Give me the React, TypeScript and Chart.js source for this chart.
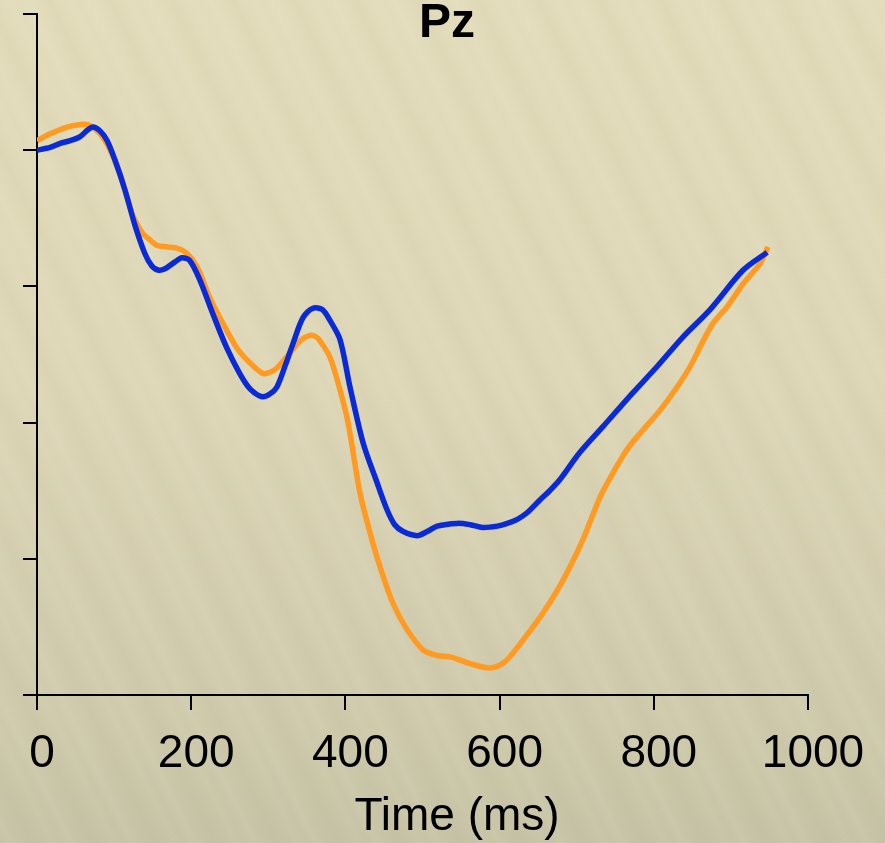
import React, { useEffect, useRef } from "react";
import { Chart, registerables } from "chart.js";

Chart.register(...registerables);

const xTickValues = [0, 200, 400, 600, 800, 1000];

const blueTimes = [0, 17, 30, 43, 56, 66, 73, 82, 91, 101, 114, 127, 140, 149, 157, 166, 179, 188, 198, 211, 228, 246, 263, 276, 292, 302, 311, 322, 332, 345, 358, 370, 380, 393, 406, 423, 441, 454, 464, 475, 493, 506, 519, 545, 562, 578, 597, 610, 623, 636, 652, 665, 678, 704, 734, 773, 804, 838, 873, 916, 947];
const blueValues = [0, 0.02, 0.05, 0.07, 0.1, 0.15, 0.17, 0.14, 0.07, -0.07, -0.29, -0.55, -0.76, -0.85, -0.88, -0.87, -0.82, -0.79, -0.81, -0.95, -1.2, -1.45, -1.64, -1.75, -1.81, -1.79, -1.74, -1.58, -1.42, -1.23, -1.16, -1.17, -1.25, -1.39, -1.74, -2.15, -2.44, -2.64, -2.75, -2.8, -2.83, -2.8, -2.76, -2.74, -2.75, -2.77, -2.76, -2.74, -2.71, -2.66, -2.57, -2.5, -2.42, -2.22, -2.03, -1.78, -1.59, -1.37, -1.17, -0.88, -0.75];

const orangeTimes = [0, 17, 39, 60, 69, 82, 95, 108, 117, 125, 137, 147, 156, 169, 182, 195, 208, 224, 241, 259, 276, 293, 302, 311, 328, 341, 354, 362, 367, 380, 393, 402, 408, 419, 432, 445, 462, 480, 501, 519, 536, 562, 584, 597, 610, 630, 656, 682, 708, 730, 747, 765, 782, 808, 830, 847, 864, 877, 895, 916, 938, 948];
const orangeValues = [0.07, 0.12, 0.17, 0.19, 0.18, 0.12, 0.0, -0.18, -0.35, -0.49, -0.61, -0.66, -0.7, -0.71, -0.72, -0.76, -0.86, -1.08, -1.27, -1.45, -1.56, -1.64, -1.63, -1.6, -1.49, -1.4, -1.36, -1.37, -1.4, -1.52, -1.76, -1.96, -2.15, -2.52, -2.81, -3.06, -3.33, -3.52, -3.67, -3.71, -3.72, -3.77, -3.8, -3.79, -3.74, -3.6, -3.4, -3.16, -2.86, -2.55, -2.37, -2.2, -2.08, -1.91, -1.74, -1.59, -1.4, -1.27, -1.15, -0.98, -0.83, -0.71];

const titleText = "Pz";
const xAxisTitle = "Time (ms)";

const FONT = "'Liberation Sans', Arial, sans-serif";

const textPlugin = {
  id: "textPlugin",
  afterDraw(chart: any) {
    const ctx = chart.ctx;
    ctx.save();
    ctx.fillStyle = "#000";
    ctx.textAlign = "center";
    ctx.textBaseline = "alphabetic";
    ctx.font = `bold 48px ${FONT}`;
    ctx.fillText(titleText, 447, 37);
    ctx.font = `46px ${FONT}`;
    ctx.fillText(xAxisTitle, 457, 830);
    ctx.restore();
  },
};

export default function App() {
  const ref = useRef<HTMLCanvasElement | null>(null);

  useEffect(() => {
    if (!ref.current) return;
    const chart = new Chart(ref.current, {
      type: "line",
      data: {
        datasets: [
          {
            label: "blue",
            data: blueTimes.map((t, i) => ({ x: t, y: blueValues[i] })),
            borderColor: "#0a2ad8",
            borderWidth: 5.5,
            pointRadius: 0,
            tension: 0.3,
            fill: false,
            order: 0,
          },
          {
            label: "orange",
            data: orangeTimes.map((t, i) => ({ x: t, y: orangeValues[i] })),
            borderColor: "#ff9b22",
            borderWidth: 5.5,
            pointRadius: 0,
            tension: 0.3,
            fill: false,
            order: 1,
          },
        ],
      },
      options: {
        animation: false,
        responsive: true,
        maintainAspectRatio: false,
        layout: { padding: { left: 0, right: 77, top: 14, bottom: 0 } },
        plugins: { legend: { display: false }, tooltip: { enabled: false }, title: { display: false } },
        scales: {
          x: {
            type: "linear",
            min: 0,
            max: 1000,
            afterBuildTicks: (scale: any) => {
              scale.ticks = xTickValues.map((v) => ({ value: v }));
            },
            afterFit: (scale: any) => {
              scale.height = 148;
            },
            ticks: {
              color: "#000",
              font: { family: FONT, size: 46 },
              padding: 17,
              labelOffset: 5,
              maxRotation: 0,
              autoSkip: false,
              callback: (v: any) => String(v),
            },
            grid: {
              display: true,
              drawOnChartArea: false,
              drawTicks: true,
              tickLength: 15,
              color: "#000",
              lineWidth: 2,
            },
            border: { display: true, color: "#000", width: 2 },
          },
          y: {
            type: "linear",
            min: -4,
            max: 1,
            ticks: { display: false, stepSize: 1 },
            afterFit: (scale: any) => {
              scale.width = 37;
            },
            grid: {
              display: true,
              drawOnChartArea: false,
              drawTicks: true,
              tickLength: 14,
              color: "#000",
              lineWidth: 2,
            },
            border: { display: true, color: "#000", width: 2 },
          },
        },
      },
      plugins: [textPlugin],
    });
    return () => chart.destroy();
  }, []);

  return (
    <div
      style={{
        position: "fixed",
        left: 0,
        top: 0,
        width: 885,
        height: 843,
        background:
          "repeating-linear-gradient(64deg, rgba(255,255,240,0) 0px, rgba(255,255,240,0.06) 9px, rgba(255,255,240,0) 17px, rgba(120,110,80,0.03) 29px, rgba(255,255,240,0) 41px, rgba(255,255,240,0.04) 47px, rgba(255,255,240,0) 55px), linear-gradient(180deg, #e2dcbb 0%, #ddd7b7 45%, #cfcaac 85%, #c7c3a6 100%)",
      }}
    >
      <canvas ref={ref} />
    </div>
  );
}
